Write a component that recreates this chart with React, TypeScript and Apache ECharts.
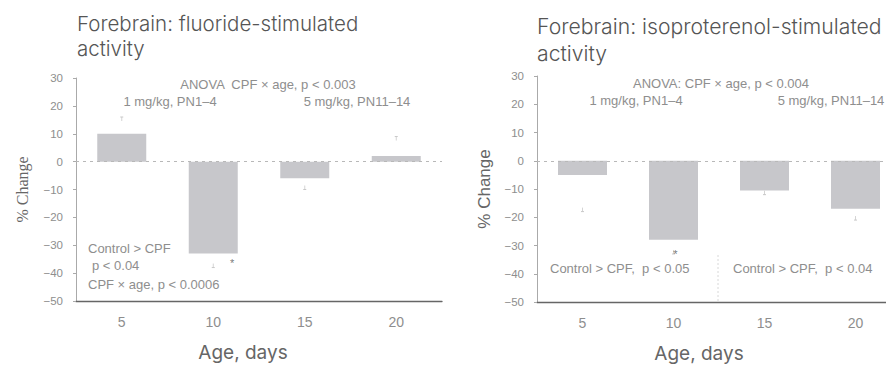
import React, { useEffect, useRef } from "react";
import * as echarts from "echarts";

const ages = ["5", "10", "15", "20"];
const yTicks = [30, 20, 10, 0, -10, -20, -30, -40, -50];

const fluorideValues = [10, -33, -6, 2];
const fluorideErrorEnds = [16, -38, -10, 9];
const fluorideSig = [null, -35.5, null, null];

const isoValues = [-5, -28, -10.5, -17];
const isoErrorEnds = [-18, -33, -12, -21];
const isoSig = [null, -33, null, null];

const titleLeftLines = ["Forebrain: fluoride-stimulated", "activity"];
const titleRightLines = ["Forebrain: isoproterenol-stimulated", "activity"];

const TEXT = "#666";
const LIGHT = "#8e8e8e";
const BAR = "#c7c7cb";

function errorSeries(xIdx: number, ends: number[], values: number[]) {
  return {
    type: "custom",
    xAxisIndex: xIdx,
    yAxisIndex: xIdx,
    silent: true,
    z: 5,
    data: ends.map((e, i) => [i, e, values[i]]),
    renderItem: (params: any, api: any) => {
      const end = api.coord([api.value(0), api.value(1)]);
      const base = api.coord([api.value(0), api.value(2)]);
      const dir = end[1] > base[1] ? -1 : 1;
      return {
        type: "group",
        children: [
          {
            type: "line",
            shape: { x1: end[0], y1: end[1], x2: end[0], y2: end[1] + dir * 4 },
            style: { stroke: "#d4d4d4", lineWidth: 1 },
          },
          {
            type: "line",
            shape: { x1: end[0] - 1.5, y1: end[1], x2: end[0] + 1.5, y2: end[1] },
            style: { stroke: "#c8c8c8", lineWidth: 1 },
          },
        ],
      };
    },
  };
}

function sigSeries(idx: number, sig: (number | null)[], offset: number[]) {
  return {
    type: "scatter",
    xAxisIndex: idx,
    yAxisIndex: idx,
    symbolSize: 0,
    silent: true,
    z: 6,
    itemStyle: { color: "#555" },
    data: sig.map((v, i) => (v === null ? null : [i, v])),
    label: {
      show: true,
      formatter: "*",
      position: "inside",
      offset,
      color: "#555",
      fontSize: 11,
      fontFamily: "Liberation Sans",
    },
  };
}

export default function App() {
  const ref = useRef<HTMLDivElement>(null);
  useEffect(() => {
    if (!ref.current) return;
    const chart = echarts.init(ref.current, undefined, { renderer: "svg" });
    const xAxisCommon = (gridIndex: number, shift: number) => ({
      type: "category",
      gridIndex,
      data: ages,
      position: "bottom",
      axisLine: { onZero: false, lineStyle: { color: "#666", width: 1.3 } },
      axisTick: { show: false },
      axisLabel: { color: LIGHT, fontSize: 14, margin: 14, fontFamily: "Liberation Sans" },
      name: "Age, days",
      nameLocation: "middle",
      nameGap: 41,
      nameTextStyle: {
        color: TEXT,
        fontSize: 19,
        lineHeight: 20,
        fontFamily: "Inter",
        padding: [0, shift * 2, 0, 0],
      },
    });
    const yAxisCommon = (gridIndex: number, name: string, nameFont: string, nameSize: number, nameGap: number) => ({
      type: "value",
      gridIndex,
      min: -50,
      max: 30,
      interval: 10,
      axisLine: { show: true, lineStyle: { color: "#aaa", width: 1 } },
      axisTick: { show: true, length: 3, inside: false, lineStyle: { color: "#aaa" } },
      splitLine: { show: false },
      axisLabel: {
        color: LIGHT,
        fontSize: 11.5,
        margin: 13,
        fontFamily: "Liberation Sans",
        formatter: (v: number) => (v < 0 ? "\u2212" + Math.abs(v) : String(v)),
      },
      name,
      nameLocation: "middle",
      nameGap,
      nameTextStyle: { color: TEXT, fontSize: nameSize, fontFamily: nameFont },
    });
    const zeroLine = {
      silent: true,
      symbol: "none",
      label: { show: false },
      lineStyle: { color: "#b8b8b8", type: [3, 4], width: 1 },
      data: [{ yAxis: 0 }],
    };
    const annot = (x: number, y: number, text: string, align: string = "center", size = 13) => ({
      type: "text",
      x,
      y,
      style: {
        text,
        fill: LIGHT,
        fontSize: size,
        fontFamily: "Liberation Sans",
        align,
        verticalAlign: "middle",
      },
    });
    const title = (x: number, y: number, text: string, size: number) => ({
      type: "text",
      x,
      y,
      style: {
        text,
        fill: "#555",
        fontSize: size,
        lineHeight: size,
        fontFamily: "Inter",
        fontWeight: 300,
        verticalAlign: "middle",
      },
    });
    chart.setOption({
      animation: false,
      backgroundColor: "#ffffff",
      grid: [
        { left: 76, top: 78, width: 366, height: 223, outerBoundsMode: "none", containLabel: false },
        { left: 537, top: 76, width: 364, height: 226, outerBoundsMode: "none", containLabel: false },
      ],
      xAxis: [xAxisCommon(0, 16), xAxisCommon(1, 20)],
      yAxis: [
        yAxisCommon(0, "% Change", "Liberation Serif", 16, 46),
        yAxisCommon(1, "% Change", "Liberation Sans", 17, 44),
      ],
      graphic: [
        title(77, 23, titleLeftLines[0], 20.5),
        title(77, 48.5, titleLeftLines[1], 20.5),
        title(537, 26, titleRightLines[0], 21.2),
        title(537, 52.5, titleRightLines[1], 21.2),
        annot(268, 84, "ANOVA  CPF \u00d7 age, p < 0.003"),
        annot(170, 101, "1 mg/kg, PN1\u20134"),
        annot(357, 101, "5 mg/kg, PN11\u201314"),
        annot(88, 248, "Control > CPF", "left"),
        annot(92, 265, "p < 0.04", "left"),
        annot(88, 284, "CPF \u00d7 age, p < 0.0006", "left"),
        annot(721, 83, "ANOVA: CPF \u00d7 age, p < 0.004"),
        annot(636, 100, "1 mg/kg, PN1\u20134"),
        annot(831, 100, "5 mg/kg, PN11\u201314"),
        annot(550, 268, "Control > CPF,  p < 0.05", "left"),
        annot(733, 268, "Control > CPF,  p < 0.04", "left"),
        {
          type: "line",
          shape: { x1: 718, y1: 255, x2: 718, y2: 301 },
          style: { stroke: "#d8d8d8", lineWidth: 1, lineDash: [2, 2] },
        },
      ],
      series: [
        {
          type: "bar",
          xAxisIndex: 0,
          yAxisIndex: 0,
          data: fluorideValues,
          barWidth: 49,
          itemStyle: { color: BAR },
          markLine: zeroLine,
        },
        errorSeries(0, fluorideErrorEnds, fluorideValues),
        sigSeries(0, fluorideSig, [19, 2]),
        {
          type: "bar",
          xAxisIndex: 1,
          yAxisIndex: 1,
          data: isoValues,
          barWidth: 49,
          itemStyle: { color: BAR },
          markLine: zeroLine,
        },
        errorSeries(1, isoErrorEnds, isoValues),
        sigSeries(1, isoSig, [2, 0]),
      ],
    });
    return () => chart.dispose();
  }, []);
  return (
    <div
      ref={ref}
      style={{ position: "fixed", left: 0, top: 0, width: 886, height: 365, overflow: "hidden" }}
    />
  );
}
